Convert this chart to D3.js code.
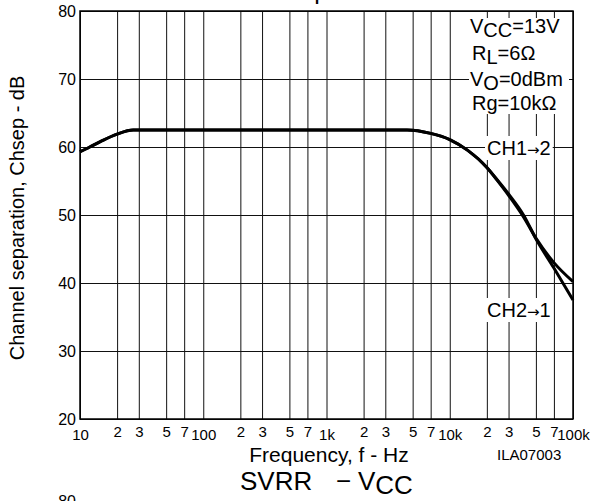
<!DOCTYPE html>
<html>
<head>
<meta charset="utf-8">
<script src="https://cdn.jsdelivr.net/npm/d3@7"></script>
<style>
    body { margin: 0; background: #fff; }
    svg { display: block; font-family: "Liberation Sans", Arial, sans-serif; }
</style>
</head>
<body>
<svg id="plot" width="591" height="501"></svg>
<script>
// Frequency points (Hz)
const freqHz = [10, 12, 15, 20, 27, 100, 1000, 4500, 7000, 10000, 14000, 20000, 25000, 30000, 40000, 50000, 70000, 100000];
// Channel separation (dB) for both directions
const ch12 = [59.3, 60.0, 60.9, 61.9, 62.5, 62.5, 62.5, 62.5, 62.0, 61.1, 59.5, 57.0, 54.8, 52.9, 49.6, 46.6, 43.0, 40.2];
const ch21 = [59.3, 60.0, 60.9, 61.9, 62.5, 62.5, 62.5, 62.5, 62.0, 61.1, 59.5, 57.0, 54.9, 53.1, 49.9, 46.5, 42.2, 37.5];

// Tick values and labels
const yTicks = [20, 30, 40, 50, 60, 70, 80];
const majorTicks = [10, 100, 1000, 10000, 100000];
const majorLabels = ["10", "100", "1k", "10k", "100k"];
const minorTicks = [20, 30, 50, 70, 200, 300, 500, 700, 2000, 3000, 5000, 7000, 20000, 30000, 50000, 70000];
const minorLabels = ["2", "3", "5", "7", "2", "3", "5", "7", "2", "3", "5", "7", "2", "3", "5", "7"];

const margin = { top: 11, right: 18, bottom: 82, left: 80 };
const width = 591 - margin.left - margin.right;
const height = 501 - margin.top - margin.bottom;

const svg = d3.select("#plot");

// Scales
const x = d3.scaleLog().domain([10, 100000]).range([0, width]);
const y = d3.scaleLinear().domain([20, 80]).range([height, 0]);

const g = svg.append("g").attr("transform", "translate(" + margin.left + "," + margin.top + ")");

// Vertical grid lines
g.append("g")
    .attr("transform", "translate(0," + height + ")")
    .call(d3.axisBottom(x).tickValues(minorTicks.concat(majorTicks)).tickSize(-height).tickFormat(""))
    .call((a) => a.select(".domain").remove())
    .selectAll("line")
    .attr("stroke", "#111")
    .attr("stroke-width", 1);

// Horizontal grid lines
g.append("g")
    .call(d3.axisLeft(y).tickValues(yTicks).tickSize(-width).tickFormat(""))
    .call((a) => a.select(".domain").remove())
    .selectAll("line")
    .attr("stroke", "#111")
    .attr("stroke-width", 1);

// Minor x labels (2 3 5 7)
g.append("g")
    .attr("transform", "translate(0," + height + ")")
    .call(d3.axisBottom(x).tickValues(minorTicks).tickFormat((d, i) => minorLabels[i]).tickSize(0).tickPadding(7))
    .call((a) => a.select(".domain").remove())
    .selectAll("text")
    .attr("font-size", "15px")
    .attr("font-family", "Liberation Sans, Arial, sans-serif")
    .attr("fill", "#000");

// Major x labels (decades), set slightly lower
g.append("g")
    .attr("transform", "translate(0," + height + ")")
    .call(d3.axisBottom(x).tickValues(majorTicks).tickFormat((d, i) => majorLabels[i]).tickSize(0).tickPadding(10))
    .call((a) => a.select(".domain").remove())
    .selectAll("text")
    .attr("font-size", "15px")
    .attr("font-family", "Liberation Sans, Arial, sans-serif")
    .attr("fill", "#000");

// Y labels
g.append("g")
    .call(d3.axisLeft(y).tickValues(yTicks).tickSize(0).tickPadding(4))
    .call((a) => a.select(".domain").remove())
    .selectAll("text")
    .attr("font-size", "16px")
    .attr("font-family", "Liberation Sans, Arial, sans-serif")
    .attr("fill", "#000");

// Frame
g.append("rect")
    .attr("width", width)
    .attr("height", height)
    .attr("fill", "none")
    .attr("stroke", "#000")
    .attr("stroke-width", 1.5);

// Curves
const line = d3.line()
    .x((d) => x(d[0]))
    .y((d) => y(d[1]))
    .curve(d3.curveMonotoneX);

[ch12, ch21].forEach((vals) => {
    g.append("path")
        .datum(freqHz.map((f, i) => [f, vals[i]]))
        .attr("d", line)
        .attr("fill", "none")
        .attr("stroke", "#000")
        .attr("stroke-width", 3);
});

// Text with subscripts
function addText(parent, px, py, parts, size) {
    const t = parent.append("text")
        .attr("x", px)
        .attr("y", py)
        .attr("font-size", size + "px")
        .attr("fill", "#000");
    let shift = 0;
    parts.forEach((p) => {
        const want = p[1] ? 4 : 0;
        const ts = t.append("tspan").text(p[0]).attr("dy", want - shift);
        if (p[2]) ts.attr("font-size", p[2] + "px").attr("font-family", "DejaVu Sans");
        shift = want;
    });
    return t;
}

// Conditions block on one white box
const cond = svg.append("g");
const condBox = cond.append("rect").attr("fill", "#fff");
addText(cond, 470, 33, [["V"], ["CC", true], ["=13V"]], 20);
addText(cond, 472, 59.5, [["R"], ["L", true], ["=6\u03A9"]], 20);
addText(cond, 470, 85.5, [["V"], ["O", true], ["=0dBm"]], 20);
addText(cond, 472, 110, [["Rg=10k\u03A9"]], 20);
condBox.attr("x", 469).attr("y", 18).attr("width", 100).attr("height", 96);

// Curve labels, each on a white box
function boxedLabel(px, py, parts) {
    const grp = svg.append("g");
    const box = grp.append("rect").attr("fill", "#fff");
    const t = addText(grp, px, py, parts, 20);
    const bb = t.node().getBBox();
    box.attr("x", bb.x - 2).attr("y", bb.y - 1)
        .attr("width", bb.width + 4).attr("height", bb.height + 2);
}
boxedLabel(487, 155, [["CH1"], ["\u2192", false, 15], ["2"]]);
boxedLabel(487, 317, [["CH2"], ["\u2192", false, 15], ["1"]]);

// Axis titles
svg.append("text")
    .attr("x", 329)
    .attr("y", 462)
    .attr("text-anchor", "middle")
    .attr("font-size", "21px")
    .text("Frequency, f - Hz");

svg.append("text")
    .attr("transform", "translate(24,218) rotate(-90)")
    .attr("text-anchor", "middle")
    .attr("font-size", "20px")
    .text("Channel separation, Chsep - dB");

svg.append("text")
    .attr("x", 497)
    .attr("y", 460)
    .attr("font-size", "15px")
    .text("ILA07003");

// Title of this chart (cut at top) and of the next one
svg.append("text")
    .attr("x", 256)
    .attr("y", -1)
    .attr("font-size", "25px")
    .text("Chsep  \u2212  f");

svg.append("text").attr("x", 240).attr("y", 490).attr("font-size", "26px").text("SVRR");
svg.append("text").attr("x", 336).attr("y", 490).attr("font-size", "26px").text("\u2212");
const next = svg.append("text")
    .attr("x", 358)
    .attr("y", 490)
    .attr("font-size", "26px");
next.append("tspan").text("V");
next.append("tspan").text("CC").attr("dy", 4);

svg.append("text")
    .attr("x", 76)
    .attr("y", 507)
    .attr("text-anchor", "end")
    .attr("font-size", "16px")
    .text("80");
</script>
</body>
</html>
